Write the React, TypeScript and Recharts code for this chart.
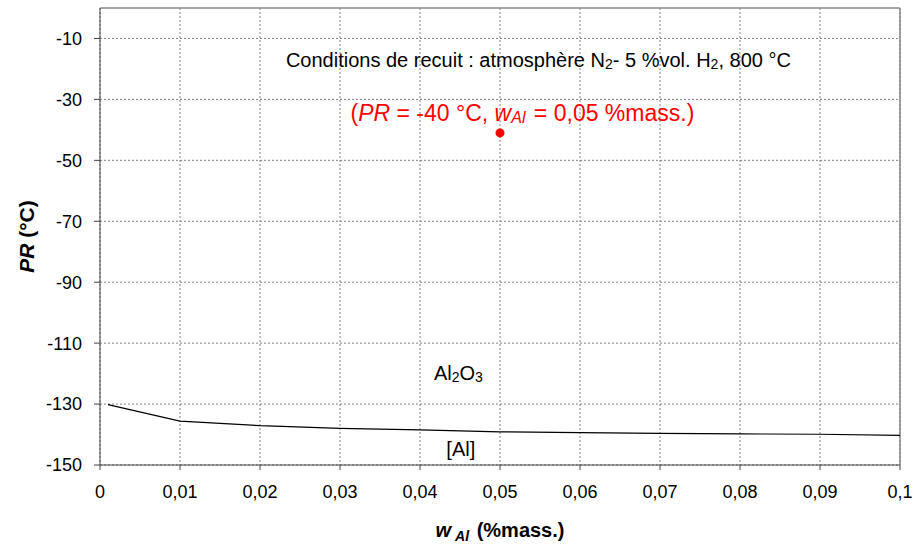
import React from 'react';
import {
  ComposedChart,
  Line,
  Scatter,
  XAxis,
  YAxis,
  CartesianGrid,
  ReferenceLine,
  ReferenceDot,
  Label,
} from 'recharts';

// teneur en Al (%mass.) et point de rosée limite (°C)
const wAl = [0.001, 0.01, 0.02, 0.03, 0.04, 0.05, 0.06, 0.07, 0.08, 0.09, 0.1];
const prLimit = [-130.2, -135.6, -137.1, -138.0, -138.5, -139.1, -139.4, -139.6, -139.8, -139.9, -140.3];

const pointW = [0.05];
const pointPR = [-41];

const xTicks = [0, 0.01, 0.02, 0.03, 0.04, 0.05, 0.06, 0.07, 0.08, 0.09, 0.1];
const yTicks = [-150, -130, -110, -90, -70, -50, -30, -10];

const lineData = wAl.map((w, i) => ({ w, pr: prLimit[i] }));
const pointData = pointW.map((w, i) => ({ w, pr: pointPR[i] }));

const FONT = '"Liberation Sans", Arial, sans-serif';

const fmtX = (v: number) => (v === 0 ? '0' : String(Number(v.toFixed(2))).replace('.', ','));

const textLabel = (content: React.ReactNode, size: number, fill: string) => (props: any) => {
  const { viewBox } = props;
  const cx = viewBox.x + viewBox.width / 2;
  const cy = viewBox.y + viewBox.height / 2;
  return (
    <text x={cx} y={cy} textAnchor="middle" dominantBaseline="central" fontFamily={FONT} fontSize={size} fill={fill}>
      {content}
    </text>
  );
};

const sub = (s: string, italic = false) => (
  <tspan baselineShift="-25%" fontSize="70%" fontStyle={italic ? 'italic' : undefined}>
    {s}
  </tspan>
);

const App: React.FC = () => {
  return (
    <div style={{ position: 'absolute', left: 0, top: 0, width: 912, height: 546, background: '#fff' }}>
      <ComposedChart width={912} height={546} margin={{ top: 8, right: 12, bottom: 51, left: 0 }}>
        <CartesianGrid stroke="#808080" strokeDasharray="2 2" horizontalValues={yTicks} verticalValues={xTicks} />
        <XAxis
          type="number"
          dataKey="w"
          domain={[0, 0.1]}
          ticks={xTicks}
          tickFormatter={fmtX}
          interval={0}
          allowDataOverflow
          height={30}
          stroke="#444"
          tickSize={5}
          tickMargin={15}
          tick={{ fill: '#000', fontSize: 18, fontFamily: FONT }}
        >
          <Label
            content={(props: any) => {
              const { viewBox } = props;
              return (
                <text
                  x={viewBox.x + viewBox.width / 2}
                  y={viewBox.y + 72}
                  textAnchor="middle"
                  fontFamily={FONT}
                  fontSize={20}
                  fontWeight="bold"
                  fill="#000"
                >
                  <tspan fontStyle="italic">w</tspan>
                  <tspan dx={4} baselineShift="-25%" fontSize="70%" fontStyle="italic">Al</tspan>
                  <tspan dx={2}>{' (%mass.)'}</tspan>
                </text>
              );
            }}
          />
        </XAxis>
        <YAxis
          type="number"
          dataKey="pr"
          domain={[-150, 0]}
          ticks={yTicks}
          interval={0}
          allowDataOverflow
          width={100}
          stroke="#444"
          tickSize={6}
          tickMargin={12}
          tick={{ fill: '#000', fontSize: 18, fontFamily: FONT }}
        >
          <Label
            content={(props: any) => {
              const { viewBox } = props;
              const cy = viewBox.y + viewBox.height / 2;
              return (
                <text
                  x={26}
                  y={cy}
                  transform={`rotate(-90 26 ${cy})`}
                  textAnchor="middle"
                  dominantBaseline="central"
                  fontFamily={FONT}
                  fontSize={21}
                  fontWeight="bold"
                  fill="#000"
                >
                  <tspan fontStyle="italic">PR</tspan>
                  <tspan>{' (°C)'}</tspan>
                </text>
              );
            }}
          />
        </YAxis>
        <ReferenceLine y={0} stroke="#888" strokeWidth={1.5} />
        <ReferenceLine x={0.1} stroke="#888" strokeWidth={1.5} />
        <Line
          data={lineData}
          dataKey="pr"
          type="linear"
          stroke="#000"
          strokeWidth={1.2}
          dot={false}
          activeDot={false}
          isAnimationActive={false}
        />
        <Scatter data={pointData} dataKey="pr" fill="#ff0000" shape="circle" isAnimationActive={false} />
        <ReferenceDot
          x={0.0548}
          y={-17.2}
          r={0}
          label={textLabel(
            <>
              {'Conditions de recuit : atmosphère N'}
              {sub('2')}
              {'- 5 %vol. H'}
              {sub('2')}
              {', 800 °C'}
            </>,
            20,
            '#000'
          )}
        />
        <ReferenceDot
          x={0.0528}
          y={-34.6}
          r={0}
          label={textLabel(
            <>
              {'('}
              <tspan fontStyle="italic">PR</tspan>
              {' = -40 °C, '}
              <tspan fontStyle="italic">w</tspan>
              {sub('Al', true)}
              <tspan dx={2}>{' = 0,05 %mass.)'}</tspan>
            </>,
            23,
            '#ff0000'
          )}
        />
        <ReferenceDot
          x={0.0448}
          y={-119.8}
          r={0}
          label={textLabel(
            <>
              {'Al'}
              {sub('2')}
              {'O'}
              {sub('3')}
            </>,
            20,
            '#000'
          )}
        />
        <ReferenceDot x={0.0451} y={-144.8} r={0} label={textLabel('[Al]', 20, '#000')} />
      </ComposedChart>
    </div>
  );
};

export default App;
